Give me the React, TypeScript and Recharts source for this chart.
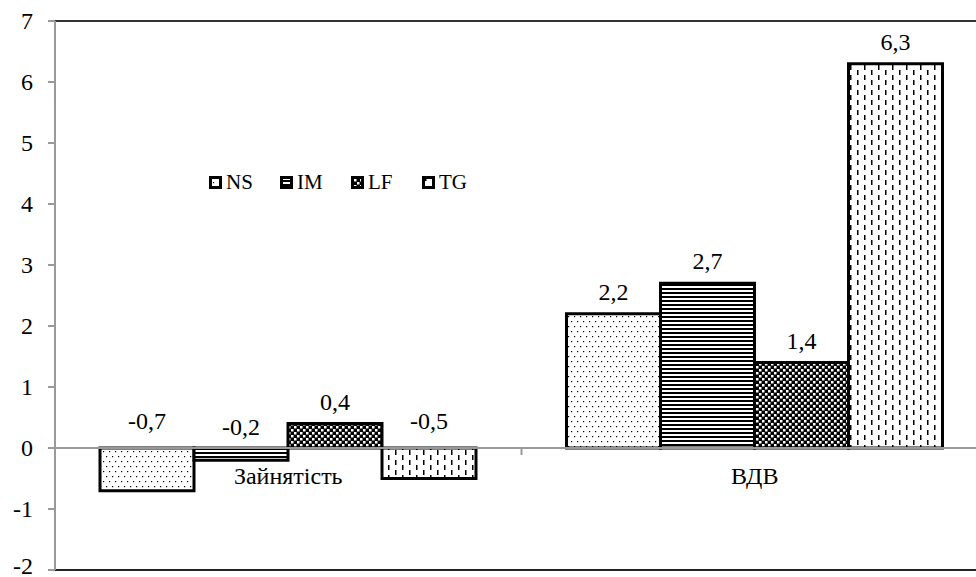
import React from 'react';
import { BarChart, Bar, XAxis, YAxis, ReferenceLine, Legend, LabelList } from 'recharts';

const categories = ['Зайнятість', 'ВДВ'];
const seriesNames = ['NS', 'IM', 'LF', 'TG'];
const nsValues = [-0.7, 2.2];
const imValues = [-0.2, 2.7];
const lfValues = [0.4, 1.4];
const tgValues = [-0.5, 6.3];
const yTicks = [-2, -1, 0, 1, 2, 3, 4, 5, 6, 7];

const data = categories.map((name, i) => ({
  name,
  NS: nsValues[i],
  IM: imValues[i],
  LF: lfValues[i],
  TG: tgValues[i],
}));

const FONT = 'Liberation Serif, DejaVu Serif';
const CHART_W = 993;
const CHART_H = 577;
const TOP = 21;
const PLOT_H = 549;
const Y_MIN = -2;
const Y_MAX = 7;

const fills: Record<string, string> = {
  NS: 'url(#pNS)',
  IM: 'url(#pIM)',
  LF: 'url(#pLF)',
  TG: 'url(#pTG)',
};

const fmt = (v: number) => String(v).replace('.', ',');

const ValueLabel = (props: any) => {
  const { x, y, width, height, value } = props;
  const top = Math.min(y, y + height);
  let cy = top - 22;
  if (value < 0) cy = top - (Math.abs(value) >= 0.5 ? 27 : 21);
  return (
    <text x={x + width / 2} y={cy} textAnchor="middle" dominantBaseline="central" fontFamily={FONT} fontSize={24} fill="#000">
      {fmt(value)}
    </text>
  );
};

const CategoryTick = (props: any) => {
  const { x, y, payload, index } = props;
  const zeroY = y - (PLOT_H * (0 - Y_MIN)) / (Y_MAX - Y_MIN);
  const band = (CHART_W - 55 - 5) / categories.length;
  return (
    <g>
      <text x={x} y={zeroY + 28} textAnchor="middle" dominantBaseline="central" fontFamily={FONT} fontSize={24} fill="#000">
        {payload.value}
      </text>
      {index < categories.length - 1 && (
        <line x1={x + band / 2} x2={x + band / 2} y1={zeroY} y2={zeroY + 7} stroke="#999" strokeWidth={2} />
      )}
    </g>
  );
};

const ValueTick = (props: any) => {
  const { x, y, payload } = props;
  return (
    <text x={x} y={Math.min(y, CHART_H - 11)} textAnchor="end" dominantBaseline="central" fontFamily={FONT} fontSize={24} fill="#000">
      {payload.value}
    </text>
  );
};

const LegendContent = () => (
  <div style={{ display: 'flex', fontFamily: FONT, fontSize: 21, color: '#000', lineHeight: '24px' }}>
    {seriesNames.map((n) => (
      <div key={n} style={{ display: 'flex', alignItems: 'center', width: 71 }}>
        <svg width={13} height={13} style={{ marginRight: 4 }}>
          <rect x={1.5} y={1.5} width={10} height={10} fill={fills[n]} stroke="#000" strokeWidth={3} />
        </svg>
        <span>{n}</span>
      </div>
    ))}
  </div>
);

export default function App() {
  return (
    <div style={{ position: 'fixed', left: 0, top: 0, width: 976, height: 577, overflow: 'hidden', background: '#fff' }}>
      <BarChart
        width={CHART_W}
        height={CHART_H}
        data={data}
        margin={{ top: TOP, right: 5, left: 0, bottom: 0 }}
        barCategoryGap={45}
        barGap={0}
      >
        <defs>
          <pattern id="pNS" width={12} height={10} patternUnits="userSpaceOnUse">
            <rect width={12} height={10} fill="#fff" />
            <rect x={1} y={1} width={1.2} height={1.2} fill="#000" />
            <rect x={7} y={1} width={1.2} height={1.2} fill="#000" />
            <rect x={4} y={6} width={1.2} height={1.2} fill="#000" />
            <rect x={10} y={6} width={1.2} height={1.2} fill="#000" />
          </pattern>
          <pattern id="pIM" width={4} height={4} patternUnits="userSpaceOnUse">
            <rect width={4} height={4} fill="#fff" />
            <rect x={0} y={0} width={4} height={2} fill="#000" />
          </pattern>
          <pattern id="pLF" width={6} height={6} patternUnits="userSpaceOnUse">
            <rect width={6} height={6} fill="#000" />
            <rect x={0} y={0} width={2.5} height={2.5} fill="#fff" />
            <rect x={3} y={3} width={2.5} height={2.5} fill="#fff" />
          </pattern>
          <pattern id="pTG" width={14} height={10} patternUnits="userSpaceOnUse">
            <rect width={14} height={10} fill="#fff" />
            <rect x={3} y={0} width={1.5} height={5} fill="#000" />
            <rect x={10} y={5} width={1.5} height={5} fill="#000" />
          </pattern>
        </defs>
        <XAxis
          dataKey="name"
          height={7}
          tickSize={0}
          tickMargin={0}
          axisLine={{ stroke: '#222', strokeWidth: 2 }}
          tickLine={false}
          tick={<CategoryTick />}
          interval={0}
        />
        <YAxis
          domain={[Y_MIN, Y_MAX]}
          ticks={yTicks}
          interval={0}
          width={55}
          tickSize={7}
          tickMargin={15}
          axisLine={{ stroke: '#999', strokeWidth: 2 }}
          tickLine={{ stroke: '#999', strokeWidth: 2 }}
          tick={<ValueTick />}
          allowDataOverflow
        />
        <ReferenceLine y={Y_MAX} stroke="#333" strokeWidth={2} />
        <ReferenceLine y={0} stroke="#999" strokeWidth={2} />
        <Legend
          layout="horizontal"
          verticalAlign="middle"
          align="center"
          content={<LegendContent />}
          wrapperStyle={{ position: 'absolute', left: 209, top: 170, width: 300 }}
        />
        {seriesNames.map((n) => (
          <Bar key={n} dataKey={n} fill={fills[n]} stroke="#000" strokeWidth={3} isAnimationActive={false}>
            <LabelList dataKey={n} content={<ValueLabel />} />
          </Bar>
        ))}
      </BarChart>
    </div>
  );
}
